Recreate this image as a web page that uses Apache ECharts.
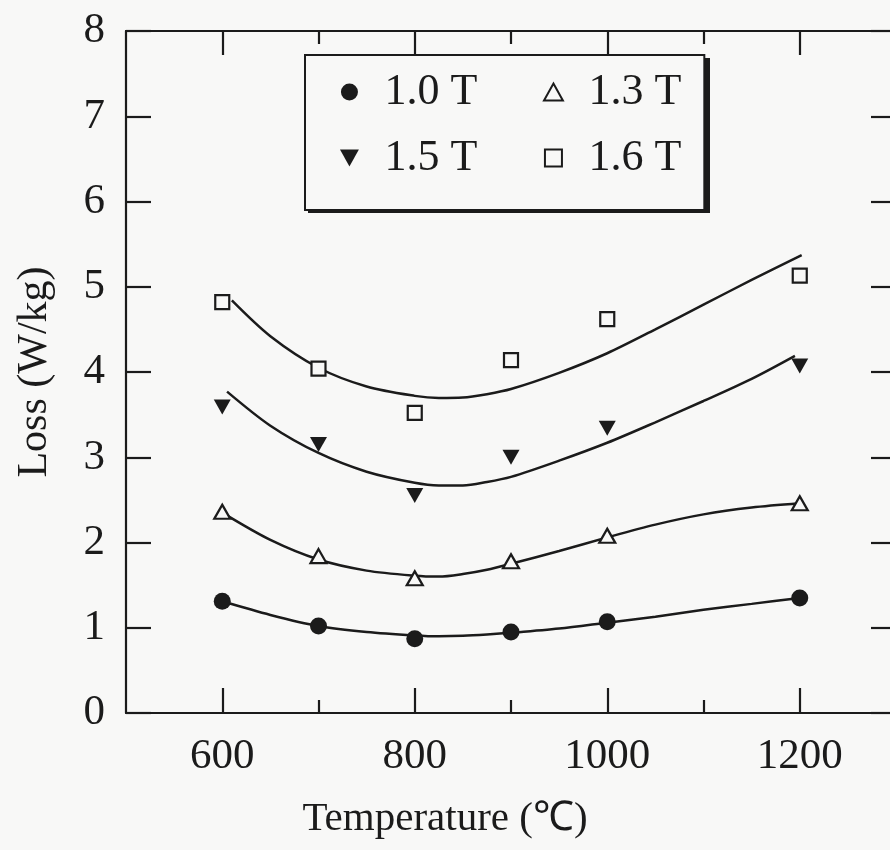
<!DOCTYPE html>
<html>
<head>
<meta charset="utf-8">
<script src="https://cdn.jsdelivr.net/npm/echarts@6/dist/echarts.min.js"></script>
<style>
  html, body { margin: 0; padding: 0; background: #f8f8f7; }
  #chart { width: 890px; height: 850px; }
</style>
</head>
<body>
<div id="chart"></div>
<script>
// Annealing temperature (°C) of the measured samples
const temps = [600, 700, 800, 900, 1000, 1200];

// Measured core loss (W/kg) at each flux density
const loss10 = [1.31, 1.02, 0.87, 0.95, 1.07, 1.35];
const loss13 = [2.36, 1.84, 1.58, 1.78, 2.08, 2.46];
const loss15 = [3.59, 3.15, 2.55, 3.00, 3.34, 4.07];
const loss16 = [4.82, 4.04, 3.52, 4.14, 4.62, 5.13];

// Fitted trend curves, [temperature, loss] pairs
const fit10 = [[600, 1.31], [650, 1.15], [700, 1.02], [750, 0.95], [800, 0.91], [825, 0.90], [850, 0.905], [875, 0.92], [900, 0.94], [950, 0.99], [1000, 1.06], [1050, 1.13], [1100, 1.21], [1150, 1.28], [1200, 1.35]];
const fit13 = [[600, 2.35], [650, 2.03], [700, 1.80], [750, 1.67], [800, 1.61], [825, 1.60], [850, 1.63], [875, 1.68], [900, 1.75], [950, 1.90], [1000, 2.06], [1050, 2.21], [1100, 2.33], [1150, 2.41], [1200, 2.46]];
const fit15 = [[605, 3.77], [650, 3.37], [700, 3.05], [750, 2.83], [800, 2.70], [825, 2.67], [850, 2.67], [875, 2.71], [900, 2.77], [950, 2.96], [1000, 3.17], [1050, 3.41], [1100, 3.66], [1150, 3.92], [1195, 4.19]];
const fit16 = [[610, 4.84], [650, 4.42], [700, 4.05], [750, 3.83], [800, 3.72], [825, 3.695], [850, 3.70], [875, 3.74], [900, 3.80], [950, 3.99], [1000, 4.22], [1050, 4.50], [1100, 4.79], [1150, 5.08], [1202, 5.37]];

// Series names (legend entries)
const seriesNames = ['1.0 T', '1.3 T', '1.5 T', '1.6 T'];

// Axis ticks and labels
const xMajor = [600, 800, 1000, 1200];
const xMinor = [700, 900, 1100];

const INK = '#1b1b1b';
const BG = '#f8f8f7';
const FONT = '"Liberation Serif", "Times New Roman", serif';

const triUp = 'path://M5,0L10,9L0,9Z';
const triDown = 'path://M0,0L10,0L5,9Z';
const square = 'path://M0,0L10,0L10,10L0,10Z';

const pairs = (ys) => temps.map((t, i) => [t, ys[i]]);

function curve(name, data) {
  return {
    name: name + ' fit',
    type: 'line',
    data: data,
    smooth: 0.3,
    symbol: 'none',
    silent: true,
    lineStyle: { color: INK, width: 2.5 },
    z: 2
  };
}

function points(name, ys, symbol, size, hollow) {
  return {
    name: name,
    type: 'scatter',
    data: pairs(ys),
    symbol: symbol,
    symbolSize: size,
    itemStyle: hollow
      ? { color: BG, borderColor: INK, borderWidth: 2.2, opacity: 1 }
      : { color: INK, borderWidth: 0, opacity: 1 },
    z: 3
  };
}

const legendText = {
  fontFamily: FONT,
  fontSize: 44,
  color: INK,
  padding: [0, 0, 0, 18]
};

// Legend frame geometry (box drawn by the left-column legend)
const legendBox = { left: 305, top: 55, width: 402, height: 155 };

const chart = echarts.init(document.getElementById('chart'), null, { renderer: 'canvas' });

const baseX = {
  type: 'value',
  min: 500,
  max: 1300,
  splitLine: { show: false },
  axisLine: { show: false },
  axisLabel: { show: false },
  axisTick: { show: false }
};

chart.setOption({
  backgroundColor: BG,
  animation: false,
  grid: {
    left: 126,
    top: 31,
    width: 770,
    height: 682,
    containLabel: false,
    outerBoundsMode: 'none'
  },
  graphic: [
    {
      // drop shadow behind the legend frame
      type: 'rect',
      z: 3,
      silent: true,
      shape: {
        x: legendBox.left + 3,
        y: legendBox.top + 3,
        width: legendBox.width,
        height: legendBox.height
      },
      style: { fill: INK }
    }
  ],
  legend: [
    {
      // left column, carries the framed box for both columns
      left: legendBox.left,
      top: legendBox.top,
      z: 4,
      orient: 'vertical',
      selectedMode: false,
      itemWidth: 24,
      itemHeight: 17,
      itemGap: 22,
      padding: [15, 227, 30, 35],
      backgroundColor: BG,
      borderColor: INK,
      borderWidth: 2,
      textStyle: legendText,
      data: [
        { name: seriesNames[0], icon: 'circle', itemStyle: { color: INK, borderWidth: 0, opacity: 1 } },
        { name: seriesNames[2], icon: triDown, itemStyle: { color: INK, borderWidth: 0, opacity: 1 } }
      ]
    },
    {
      // right column
      left: 543,
      top: 70,
      z: 5,
      orient: 'vertical',
      selectedMode: false,
      itemWidth: 24,
      itemHeight: 17,
      itemGap: 22,
      padding: 0,
      textStyle: legendText,
      data: [
        { name: seriesNames[1], icon: triUp, itemStyle: { color: BG, borderColor: INK, borderWidth: 2, opacity: 1 } },
        { name: seriesNames[3], icon: square, itemStyle: { color: BG, borderColor: INK, borderWidth: 2, opacity: 1 } }
      ]
    }
  ],
  xAxis: [
    {
      // bottom frame with major ticks and labels
      type: 'value',
      position: 'bottom',
      min: 500,
      max: 1300,
      name: 'Temperature (℃)',
      nameLocation: 'middle',
      nameGap: 86,
      nameTextStyle: { fontFamily: FONT, fontSize: 41, color: INK, padding: [0, 132, 0, 0] },
      splitLine: { show: false },
      axisLine: { show: true, lineStyle: { color: INK, width: 2.2 } },
      axisTick: { show: true, inside: true, length: 25, customValues: xMajor, lineStyle: { color: INK, width: 2.2 } },
      axisLabel: {
        show: true,
        customValues: xMajor,
        margin: 22,
        fontFamily: FONT,
        fontSize: 43,
        color: INK,
        formatter: (v) => String(v)
      }
    },
    Object.assign({}, baseX, {
      // bottom minor ticks
      position: 'bottom',
      axisTick: { show: true, inside: true, length: 13, customValues: xMinor, lineStyle: { color: INK, width: 2.2 } }
    }),
    Object.assign({}, baseX, {
      // top frame with major ticks
      position: 'top',
      axisLine: { show: true, lineStyle: { color: INK, width: 2.2 } },
      axisTick: { show: true, inside: true, length: 24, customValues: xMajor, lineStyle: { color: INK, width: 2.2 } }
    }),
    Object.assign({}, baseX, {
      // top minor ticks
      position: 'top',
      axisTick: { show: true, inside: true, length: 13, customValues: xMinor, lineStyle: { color: INK, width: 2.2 } }
    })
  ],
  yAxis: [
    {
      type: 'value',
      position: 'left',
      min: 0,
      max: 8,
      interval: 1,
      name: 'Loss (W/kg)',
      nameLocation: 'middle',
      nameGap: 70,
      nameTextStyle: { fontFamily: FONT, fontSize: 42, color: INK },
      splitLine: { show: false },
      axisLine: { show: true, lineStyle: { color: INK, width: 2.2 } },
      axisTick: { show: true, inside: true, length: 25, lineStyle: { color: INK, width: 2.2 } },
      axisLabel: { show: true, margin: 21, fontFamily: FONT, fontSize: 43, color: INK }
    },
    {
      type: 'value',
      position: 'right',
      min: 0,
      max: 8,
      interval: 1,
      splitLine: { show: false },
      axisLine: { show: true, lineStyle: { color: INK, width: 2.2 } },
      axisTick: { show: true, inside: true, length: 25, lineStyle: { color: INK, width: 2.2 } },
      axisLabel: { show: false }
    }
  ],
  series: [
    curve(seriesNames[0], fit10),
    curve(seriesNames[1], fit13),
    curve(seriesNames[2], fit15),
    curve(seriesNames[3], fit16),
    points(seriesNames[0], loss10, 'circle', 17, false),
    points(seriesNames[1], loss13, 'triangle', [16, 14], true),
    points(seriesNames[2], loss15, triDown, [17, 15], false),
    points(seriesNames[3], loss16, 'rect', 14, true)
  ]
});
</script>
</body>
</html>
